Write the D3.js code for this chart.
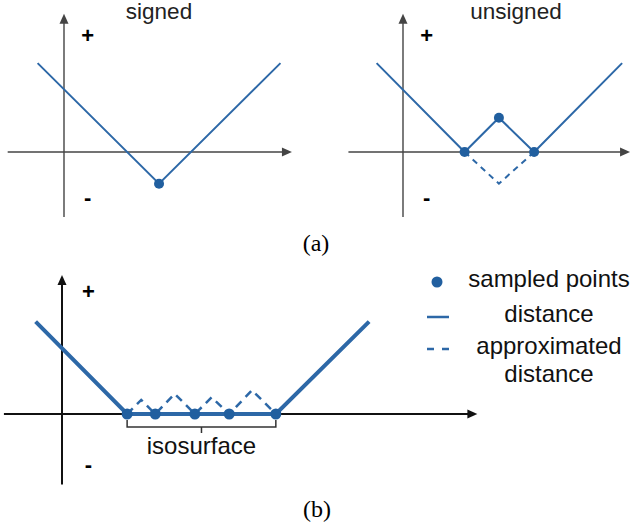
<!DOCTYPE html>
<html>
<head>
<meta charset="utf-8">
<script src="https://cdn.jsdelivr.net/npm/d3@7"></script>
<style>
  body { margin: 0; background: #fff; }
  text { font-family: "Liberation Sans", Arial, sans-serif; }
</style>
</head>
<body>
<script>
// (a) signed distance
var signedX = [-0.3, 1.08, 2.46];
var signedY = [1.01, -0.36, 1.01];
var signedSampleX = [1.08];
var signedSampleY = [-0.36];

// (a) unsigned distance
var unsignedX = [-0.3, 0.70, 1.09, 1.49, 2.49];
var unsignedY = [1.01, 0, 0.39, 0, 1.01];
var unsignedApproxX = [0.70, 1.09, 1.49];
var unsignedApproxY = [0, -0.36, 0];
var unsignedSampleX = [0.70, 1.09, 1.49];
var unsignedSampleY = [0, 0.39, 0];

// (b) isosurface
var isoX = [-0.3, 0.74, 2.43, 3.49];
var isoY = [1.05, 0, 0, 1.05];
var isoApproxX = [0.74, 0.90, 1.06, 1.28, 1.51, 1.70, 1.90, 2.16, 2.43];
var isoApproxY = [0, 0.16, 0, 0.23, 0, 0.19, 0, 0.27, 0];
var isoSampleX = [0.74, 1.06, 1.51, 1.90, 2.43];
var isoSampleY = [0, 0, 0, 0, 0];

var legendLabels = ["sampled points", "distance", "approximated", "distance"];

var blue = "#2d68a7";
var dotBlue = "#215f9f";

var svg = d3.select("body")
    .append("svg")
    .attr("width", 631)
    .attr("height", 527);

function zip(xs, ys) {
    return xs.map(function(x, i) { return [x, ys[i]]; });
}

function arrowHead(g, x, y, dir, size, color) {
    var s = size;
    var pts;
    if (dir === "right") pts = [[x, y], [x - s, y - s * 0.45], [x - s, y + s * 0.45]];
    else pts = [[x, y], [x - s * 0.45, y + s], [x + s * 0.45, y + s]];
    g.append("path")
        .attr("d", "M" + pts.map(function(p) { return p.join(","); }).join("L") + "Z")
        .attr("fill", color);
}

function panel(opt) {
    var x = d3.scaleLinear().domain([0, 1]).range([opt.ox, opt.ox + 88]);
    var y = d3.scaleLinear().domain([0, 1]).range([opt.oy, opt.oy - 88]);
    var g = svg.append("g");
    var line = d3.line().x(function(d) { return x(d[0]); }).y(function(d) { return y(d[1]); });

    // axes
    g.append("line")
        .attr("x1", x(opt.xExt[0])).attr("x2", x(opt.xExt[1]) - 6)
        .attr("y1", y(0)).attr("y2", y(0))
        .attr("stroke", opt.axisColor).attr("stroke-width", opt.axisWidth);
    arrowHead(g, x(opt.xExt[1]), y(0), "right", 10, opt.axisColor);
    g.append("line")
        .attr("x1", x(0)).attr("x2", x(0))
        .attr("y1", y(opt.yExt[0])).attr("y2", y(opt.yExt[1]) + 6)
        .attr("stroke", opt.axisColor).attr("stroke-width", opt.axisWidth);
    arrowHead(g, x(0), y(opt.yExt[1]), "up", 10, opt.axisColor);

    g.append("text")
        .attr("x", x(opt.plusX)).attr("y", y(opt.plusY))
        .attr("text-anchor", "middle").attr("dy", "0.35em")
        .style("font-size", "22px").style("font-weight", "bold")
        .text("+");
    g.append("text")
        .attr("x", x(opt.plusX)).attr("y", y(opt.minusY))
        .attr("text-anchor", "middle").attr("dy", "0.35em")
        .style("font-size", "22px").style("font-weight", "bold")
        .text("-");

    if (opt.approx) {
        g.append("path")
            .attr("d", line(opt.approx))
            .attr("fill", "none")
            .attr("stroke", blue)
            .attr("stroke-width", opt.dashWidth)
            .attr("stroke-dasharray", opt.dash);
    }
    g.append("path")
        .attr("d", line(opt.solid))
        .attr("fill", "none")
        .attr("stroke", blue)
        .attr("stroke-width", opt.lineWidth);

    g.selectAll(".dot")
        .data(opt.samples)
        .enter()
        .append("circle")
        .attr("cx", function(d) { return x(d[0]); })
        .attr("cy", function(d) { return y(d[1]); })
        .attr("r", opt.r)
        .attr("fill", dotBlue);

    if (opt.title) {
        g.append("text")
            .attr("x", opt.titleX).attr("y", 19)
            .attr("text-anchor", "middle")
            .style("font-size", "22.5px")
            .attr("fill", "#222")
            .text(opt.title);
    }
    return { x: x, y: y, g: g };
}

panel({
    ox: 64, oy: 152, xExt: [-0.64, 2.59], yExt: [-0.74, 1.57],
    axisColor: "#444", axisWidth: 1.4,
    plusX: 0.27, plusY: 1.33, minusY: -0.51,
    solid: zip(signedX, signedY),
    samples: zip(signedSampleX, signedSampleY),
    lineWidth: 2, r: 5, title: "signed", titleX: 159
});

panel({
    ox: 403, oy: 152, xExt: [-0.62, 2.58], yExt: [-0.74, 1.57],
    axisColor: "#444", axisWidth: 1.4,
    plusX: 0.27, plusY: 1.33, minusY: -0.51,
    solid: zip(unsignedX, unsignedY),
    approx: zip(unsignedApproxX, unsignedApproxY),
    dash: "6,5", dashWidth: 2,
    samples: zip(unsignedSampleX, unsignedSampleY),
    lineWidth: 2, r: 5, title: "unsigned", titleX: 516
});

var pb = panel({
    ox: 62, oy: 414, xExt: [-0.66, 4.72], yExt: [-0.80, 1.58],
    axisColor: "#111", axisWidth: 2,
    plusX: 0.3, plusY: 1.39, minusY: -0.57,
    solid: zip(isoX, isoY),
    approx: zip(isoApproxX, isoApproxY),
    dash: "8,6", dashWidth: 2.5,
    samples: zip(isoSampleX, isoSampleY),
    lineWidth: 4, r: 5.5
});

// isosurface bracket
var bx0 = pb.x(isoSampleX[0]), bx1 = pb.x(isoSampleX[isoSampleX.length - 1]);
var bmid = (bx0 + bx1) / 2;
pb.g.append("path")
    .attr("d", "M" + bx0 + ",420V427H" + bx1 + "V420M" + bmid + ",427V433")
    .attr("fill", "none")
    .attr("stroke", "#333")
    .attr("stroke-width", 1.5);
pb.g.append("text")
    .attr("x", bmid).attr("y", 454)
    .attr("text-anchor", "middle")
    .style("font-size", "24px")
    .attr("fill", "#111")
    .text("isosurface");

// subfigure captions
svg.append("text")
    .attr("x", 316).attr("y", 251)
    .attr("text-anchor", "middle")
    .style("font-family", "'Liberation Serif', 'Times New Roman', serif")
    .style("font-size", "24px")
    .text("(a)");
svg.append("text")
    .attr("x", 317).attr("y", 517)
    .attr("text-anchor", "middle")
    .style("font-family", "'Liberation Serif', 'Times New Roman', serif")
    .style("font-size", "24px")
    .text("(b)");

// legend
var legend = svg.append("g");
legend.append("circle")
    .attr("cx", 437).attr("cy", 282).attr("r", 5.5).attr("fill", dotBlue);
legend.append("line")
    .attr("x1", 427).attr("x2", 449).attr("y1", 317).attr("y2", 317)
    .attr("stroke", blue).attr("stroke-width", 2.5);
legend.append("line")
    .attr("x1", 427).attr("x2", 450).attr("y1", 349).attr("y2", 349)
    .attr("stroke", blue).attr("stroke-width", 2.5)
    .attr("stroke-dasharray", "7,8");

var legendY = [287, 322, 354, 382];
legend.selectAll(".lab")
    .data(legendLabels)
    .enter()
    .append("text")
    .attr("x", 549)
    .attr("y", function(d, i) { return legendY[i]; })
    .attr("text-anchor", "middle")
    .style("font-size", "24px")
    .attr("fill", "#111")
    .text(function(d) { return d; });
</script>
</body>
</html>
